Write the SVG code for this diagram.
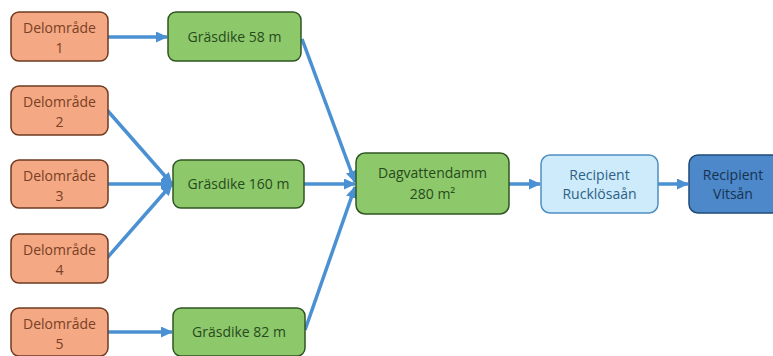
<svg xmlns="http://www.w3.org/2000/svg" width="773" height="356" viewBox="0 0 773 356">
<style>
text{font-family:"Open Sans","Liberation Sans",sans-serif;font-size:14px;text-anchor:middle}
.o rect{fill:#F4A883;stroke:#6e3a22;stroke-width:1.5}
.o text{fill:#7a3f25}
.g rect{fill:#8DC86B;stroke:#2f5522;stroke-width:1.5}
.g text{fill:#274a1c}
.lb rect{fill:#CDEBFA;stroke:#4f8fc2;stroke-width:1.5}
.lb text{fill:#2e5f84}
.db rect{fill:#4C88CA;stroke:#1f4a78;stroke-width:1.5}
.db text{fill:#16334f}
.c line{stroke:#4A90D2;stroke-width:3.5;fill:none}
</style>
<defs>
<marker id="ah" markerWidth="12" markerHeight="11" refX="11" refY="5.5" orient="auto" markerUnits="userSpaceOnUse">
<path d="M0,0 L12,5.5 L0,11 Z" fill="#4A90D2"/>
</marker>
</defs>
<g class="c">
<line x1="108" y1="37" x2="167" y2="37" marker-end="url(#ah)"/>
<line x1="107" y1="110" x2="172" y2="184" marker-end="url(#ah)"/>
<line x1="108" y1="184" x2="172" y2="184" marker-end="url(#ah)"/>
<line x1="107" y1="258" x2="172" y2="184" marker-end="url(#ah)"/>
<line x1="108" y1="332" x2="172" y2="332" marker-end="url(#ah)"/>
<line x1="302" y1="39" x2="355" y2="182" marker-end="url(#ah)"/>
<line x1="304" y1="184" x2="355" y2="184" marker-end="url(#ah)"/>
<line x1="305" y1="330" x2="355" y2="187" marker-end="url(#ah)"/>
<line x1="509" y1="184" x2="540" y2="184" marker-end="url(#ah)"/>
<line x1="658" y1="184" x2="688" y2="184" marker-end="url(#ah)"/>
</g>
<g id="d1" class="o"><rect x="11" y="12" width="97" height="49" rx="8"/><text x="59.5" y="33">Delområde</text><text x="59.5" y="53">1</text></g>
<g id="d2" class="o"><rect x="11" y="86" width="97" height="49" rx="8"/><text x="59.5" y="107">Delområde</text><text x="59.5" y="127">2</text></g>
<g id="d3" class="o"><rect x="11" y="160" width="97" height="48" rx="8"/><text x="59.5" y="181">Delområde</text><text x="59.5" y="201">3</text></g>
<g id="d4" class="o"><rect x="11" y="234" width="97" height="49" rx="8"/><text x="59.5" y="255">Delområde</text><text x="59.5" y="275">4</text></g>
<g id="d5" class="o"><rect x="11" y="308" width="97" height="48" rx="8"/><text x="59.5" y="329">Delområde</text><text x="59.5" y="349">5</text></g>
<g id="g58" class="g"><rect x="168" y="12" width="133" height="49" rx="8"/><text x="234.5" y="42">Gräsdike 58 m</text></g>
<g id="g160" class="g"><rect x="173" y="160" width="131" height="48" rx="8"/><text x="238.5" y="189">Gräsdike 160 m</text></g>
<g id="g82" class="g"><rect x="173" y="308" width="132" height="48" rx="8"/><text x="239" y="337">Gräsdike 82 m</text></g>
<g id="damm" class="g"><rect x="356" y="153" width="153" height="61" rx="9"/><text x="432.5" y="178">Dagvattendamm</text><text x="432.5" y="199">280 m²</text></g>
<g id="ruck" class="lb"><rect x="541" y="155" width="117" height="58" rx="9"/><text x="599.5" y="180">Recipient</text><text x="599.5" y="199">Rucklösaån</text></g>
<g id="vits" class="db"><rect x="689" y="155" width="100" height="58" rx="9"/><text x="733" y="180">Recipient</text><text x="733" y="199">Vitsån</text></g>
</svg>
